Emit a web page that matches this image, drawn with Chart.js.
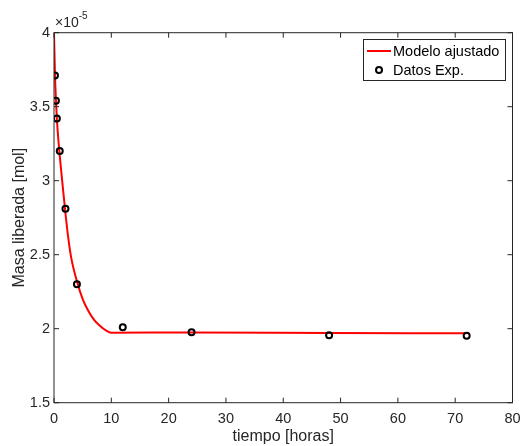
<!DOCTYPE html>
<html><head><meta charset="utf-8">
<script src="https://cdn.jsdelivr.net/npm/chart.js@4.4.1/dist/chart.umd.min.js"></script>
<style>html,body{margin:0;padding:0;background:#fff}#wrap{width:523px;height:446px;position:relative}</style>
</head><body><div id="wrap"><canvas id="c" width="523" height="446"></canvas></div>
<script>
// Values in units of 10^-5 mol
const yExponent = -5;
const expTimes = [1/6, 1/3, 0.5, 1, 2, 4, 12, 24, 48, 72];
const expMass  = [3.71, 3.54, 3.42, 3.20, 2.81, 2.30, 2.01, 1.976, 1.955, 1.953];
const modelTimes = [0, 1/6, 1/3, 0.5, 0.75, 1, 1.5, 2, 2.5, 3, 4, 5, 6, 7, 8, 9, 10, 24, 48, 72];
const modelMass  = [4.0, 3.72, 3.55, 3.42, 3.28, 3.17, 2.97, 2.78, 2.61, 2.48, 2.32, 2.20, 2.12, 2.06, 2.02, 1.99, 1.973, 1.974, 1.971, 1.969];
const xTickValues = [0, 10, 20, 30, 40, 50, 60, 70, 80];
const yTickValues = [1.5, 2, 2.5, 3, 3.5, 4];
const seriesLabels = ['Modelo ajustado', 'Datos Exp.'];
const xTitle = 'tiempo [horas]';
const yTitle = 'Masa liberada [mol]';

const AX = '#262626';
const FONT = '"Liberation Sans", Arial, sans-serif';

const boxPlugin = {
  id: 'matlabBox',
  afterDraw(chart) {
    const ctx = chart.ctx, a = chart.chartArea;
    const xs = chart.scales.x, ys = chart.scales.y;
    ctx.save();
    ctx.strokeStyle = AX; ctx.lineWidth = 1;
    ctx.strokeRect(a.left, a.top, a.right - a.left, a.bottom - a.top);
    const tl = 5;
    ctx.beginPath();
    xTickValues.forEach(v => {
      const px = xs.getPixelForValue(v);
      ctx.moveTo(px, a.bottom); ctx.lineTo(px, a.bottom - tl);
      ctx.moveTo(px, a.top); ctx.lineTo(px, a.top + tl);
    });
    yTickValues.forEach(v => {
      const py = ys.getPixelForValue(v);
      ctx.moveTo(a.left, py); ctx.lineTo(a.left + tl, py);
      ctx.moveTo(a.right, py); ctx.lineTo(a.right - tl, py);
    });
    ctx.stroke();
    // exponent
    ctx.fillStyle = AX;
    ctx.textBaseline = 'alphabetic'; ctx.textAlign = 'left';
    ctx.font = '14px ' + FONT;
    const base = '\u00d710';
    ctx.fillText(base, a.left + 1, 27);
    const w = ctx.measureText(base).width;
    ctx.font = '10px ' + FONT;
    ctx.fillText(String(yExponent), a.left + 1 + w, 19);
    // legend
    const ds = chart.data.datasets;
    const lx = 363.5, ly = 39.5, lw = 142, lh = 41;
    ctx.fillStyle = '#fff';
    ctx.fillRect(lx, ly, lw, lh);
    ctx.strokeStyle = AX; ctx.lineWidth = 1;
    ctx.strokeRect(lx, ly, lw, lh);
    ctx.font = '14.5px ' + FONT;
    ctx.textBaseline = 'middle';
    ctx.fillStyle = '#000';
    const rows = [51, 70];
    ctx.strokeStyle = ds[0].borderColor; ctx.lineWidth = 2;
    ctx.beginPath(); ctx.moveTo(367, rows[0]); ctx.lineTo(391, rows[0]); ctx.stroke();
    ctx.fillText(ds[0].label, 393, rows[0] + 1);
    ctx.strokeStyle = ds[1].borderColor; ctx.lineWidth = 2;
    ctx.beginPath(); ctx.arc(379, rows[1], 3, 0, Math.PI * 2); ctx.stroke();
    ctx.fillText(ds[1].label, 393, rows[1] + 1);
    ctx.restore();
  }
};

new Chart(document.getElementById('c'), {
  type: 'scatter',
  data: {
    datasets: [
      {
        label: seriesLabels[0],
        data: modelTimes.map((t, i) => ({x: t, y: modelMass[i]})),
        showLine: true, borderColor: '#ff0000', borderWidth: 2,
        pointRadius: 0, cubicInterpolationMode: 'monotone', order: 2
      },
      {
        label: seriesLabels[1],
        data: expTimes.map((t, i) => ({x: t, y: expMass[i]})),
        showLine: false, borderColor: '#000000', backgroundColor: 'rgba(0,0,0,0)',
        borderWidth: 2, pointRadius: 3, pointStyle: 'circle', order: 1
      }
    ]
  },
  options: {
    responsive: false, animation: false, devicePixelRatio: 1,
    layout: { padding: { top: 32.7, right: 10.5, left: 0, bottom: 0 } },
    plugins: { legend: { display: false }, tooltip: { enabled: false } },
    scales: {
      x: {
        type: 'linear', min: 0, max: 80,
        afterBuildTicks: s => { s.ticks = xTickValues.map(v => ({value: v})); },
        afterFit: s => { s.height = 43.3; s.paddingLeft = 0; s.paddingRight = 0; },
        grid: { display: false, drawTicks: false },
        border: { display: false },
        ticks: { color: AX, font: { family: FONT, size: 14.5 }, padding: 8, maxRotation: 0 },
        title: { display: true, text: xTitle, color: AX, font: { family: FONT, size: 16 }, padding: { top: 0, bottom: 0 } }
      },
      y: {
        type: 'linear', min: 1.5, max: 4,
        afterBuildTicks: s => { s.ticks = yTickValues.map(v => ({value: v})); },
        afterFit: s => { s.width = 54; s.paddingTop = 0; s.paddingBottom = 0; },
        grid: { display: false, drawTicks: false },
        border: { display: false },
        ticks: { color: AX, font: { family: FONT, size: 14.5 }, padding: 4, callback: v => String(v) },
        title: { display: true, text: yTitle, color: AX, font: { family: FONT, size: 16 }, padding: { top: 10, bottom: 0 } }
      }
    }
  },
  plugins: [boxPlugin]
});
</script></body></html>
